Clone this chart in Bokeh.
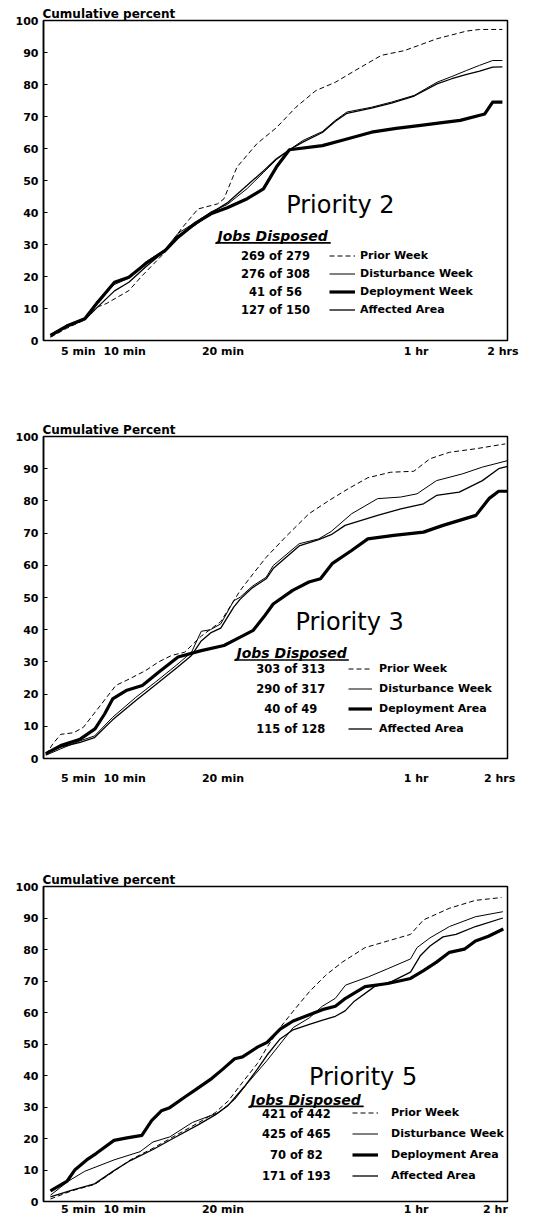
from bokeh.plotting import figure
from bokeh.models import Label, Legend, LegendItem, BoxAnnotation, FixedTicker, Range1d
from bokeh.layouts import column
from bokeh.embed import file_html
from bokeh.resources import INLINE

FONT = "DejaVu Sans"

# ---------------- shared axis data ----------------
Y_TICKS = [0, 10, 20, 30, 40, 50, 60, 70, 80, 90, 100]
# x axis: position along the (non-linear) elapsed-time axis, 0-100 % of its length
X_TICK_POS = [7.5, 17.5, 38.7, 80.3]
X_TICK_LABELS = ["5 min", "10 min", "20 min", "1 hr"]

# ---------------- Priority 2 ----------------
P2_PRIOR_X = [1.5, 5, 8.9, 11.7, 13.5, 18.4, 21.3, 26.2, 29.7, 33.3, 37.5, 38.9, 41.7, 46, 50.2, 54.4, 58.7, 62.9, 67.2, 72.8, 77.8, 84.8, 91.2, 94, 98.9]
P2_PRIOR_Y = [1.0, 3.8, 6.5, 10.5, 11.5, 15.6, 20.3, 27.6, 34.9, 41.1, 42.7, 44.3, 54.2, 61.5, 66.5, 72.9, 78.1, 80.7, 84.4, 89.1, 90.6, 94.3, 96.7, 97.2, 97.2]
P2_DIST_X = [1.5, 5, 8.9, 11.7, 15.3, 18.4, 22, 26.2, 29, 32.6, 36.1, 39.6, 43.9, 47.4, 50.2, 53, 55.9, 60.1, 62.9, 65.4, 70.7, 75, 79.9, 84.8, 88, 91.2, 94, 96.8, 98.9]
P2_DIST_Y = [1.8, 4.8, 6.9, 12.5, 17.5, 19.5, 24.5, 28.5, 33.5, 36.8, 40.2, 42.5, 47.5, 52.5, 56.5, 59.6, 62.5, 65.3, 68.8, 71.4, 72.9, 74.5, 76.6, 80.7, 82.5, 84.4, 86, 87.5, 87.5]
P2_DEPL_X = [1.5, 5, 8.9, 11.7, 15.3, 18.4, 22, 26.2, 29, 32.6, 36.1, 39.6, 43.9, 47.4, 50.2, 53, 60.1, 65, 70.7, 76, 81.3, 85.5, 89.8, 95.1, 96.8, 98.9]
P2_DEPL_Y = [1.6, 4.5, 6.8, 12, 18.2, 19.8, 24, 28.1, 32.3, 36.5, 39.6, 41.5, 44.3, 47.4, 54.2, 59.6, 60.9, 62.8, 65.1, 66.3, 67.2, 68, 68.8, 70.8, 74.5, 74.5]
P2_AFF_X = [1.5, 5, 8.9, 11.7, 15.3, 18.4, 22, 26.2, 29, 32.6, 36.1, 39.6, 43.9, 47.4, 50.2, 53, 55.9, 60.1, 62.9, 65.4, 70.7, 75, 79.9, 84.8, 88, 91.2, 94, 96.8, 98.9]
P2_AFF_Y = [1.2, 4.2, 6.5, 10.5, 15.5, 18.2, 23, 28, 32.8, 36, 39.8, 43, 48.5, 53, 56.8, 59.6, 62, 65, 68.5, 71, 72.6, 74.2, 76.4, 80.2, 81.8, 83.2, 84.2, 85.4, 85.5]
P2_NAMES = ["Prior Week", "Disturbance Week", "Deployment Week", "Affected Area"]
P2_COUNTS = ["269 of 279", "276 of 308", "41 of 56", "127 of 150"]

# ---------------- Priority 3 ----------------
P3_PRIOR_X = [0.5, 2, 3.7, 6.5, 8.6, 12, 15.6, 17.8, 22, 24.8, 27.6, 30.4, 34, 38.2, 42.4, 45.2, 48, 52.3, 57.2, 61.5, 65.7, 69.9, 74.8, 79.8, 83.3, 87.5, 93.2, 99.5]
P3_PRIOR_Y = [1.2, 4.5, 7.5, 8, 9.7, 16, 22.7, 24.2, 27.3, 30, 32, 33, 38, 42.5, 52.2, 57.4, 62.5, 69, 76, 80.1, 83.8, 87.2, 88.9, 89.2, 93.1, 95.1, 96.2, 97.7]
P3_DIST_X = [0.5, 3.7, 7.9, 11, 14.9, 19.9, 24.1, 29, 31.9, 34, 36, 38.2, 41, 42.4, 45, 48, 49.5, 55.1, 59.3, 62, 66.4, 72, 77, 80.5, 84.7, 90.3, 94.6, 100]
P3_DIST_Y = [1, 3, 5.5, 7, 12.8, 19, 23.7, 29.4, 33, 39.5, 40, 41.8, 49, 50.1, 53.5, 56.3, 59.9, 66.7, 68.2, 70.5, 76, 80.7, 81.2, 82.2, 86.3, 88.4, 90.5, 92.5]
P3_DEPL_X = [0.5, 3.7, 7.9, 11.1, 13.2, 14.9, 17.8, 21.3, 24.8, 29, 34, 38.9, 42.4, 45.2, 47.5, 49.5, 53.7, 57.2, 59.7, 62.2, 66.4, 69.9, 75.5, 81.9, 86.1, 93.2, 96, 98.1, 100]
P3_DEPL_Y = [1.5, 4, 6, 9.2, 13.9, 18.5, 21.1, 22.7, 26.8, 31.5, 33.5, 35.1, 37.7, 39.8, 44, 48, 52.2, 54.8, 55.8, 60.5, 64.6, 68.2, 69.3, 70.3, 72.4, 75.5, 80.7, 83, 83]
P3_AFF_X = [0.5, 3.7, 7.9, 11, 14.9, 19.9, 24.1, 29, 31.9, 34, 36, 38.2, 41, 42.4, 45, 48, 49.5, 55.1, 59.3, 62, 65, 72, 77, 81.9, 84.7, 89.6, 94.6, 98.1, 100]
P3_AFF_Y = [1.5, 3.5, 5, 6.5, 12, 18, 22.8, 28.5, 32, 36.5, 39, 40.5, 47, 49.5, 53, 55.8, 59, 66, 68, 69.5, 72.4, 75.5, 77.5, 79.1, 81.7, 82.7, 86.3, 90, 90.7]
P3_NAMES = ["Prior Week", "Disturbance Week", "Deployment Area", "Affected Area"]
P3_COUNTS = ["303 of 313", "290 of 317", "40 of 49", "115 of 128"]

# ---------------- Priority 5 ----------------
P5_PRIOR_X = [1.5, 6.1, 11, 15.2, 18.7, 23.6, 27.9, 33.5, 37, 39.8, 43.3, 46.1, 48.2, 51, 53.8, 57.3, 60.8, 64.4, 69.3, 74.2, 79.1, 81.9, 87.5, 93.1, 98.7]
P5_PRIOR_Y = [0.8, 3.4, 5.4, 9.6, 13.2, 16.9, 20.5, 25.1, 28.2, 31.9, 38.6, 43.8, 49, 55.2, 60.4, 66.6, 71.8, 76, 80.6, 82.7, 84.8, 89.4, 93.1, 95.6, 96.5]
P5_DIST_X = [1.5, 5.4, 8.9, 15.2, 20.8, 23.6, 27.2, 32.1, 37.7, 41.2, 44, 48.2, 51, 53.8, 57.3, 60.1, 62.9, 65.1, 70, 74.2, 79.1, 80.5, 83.3, 87.5, 93.1, 99]
P5_DIST_Y = [2, 6.5, 9.6, 13.2, 15.8, 18.9, 20.5, 25.1, 28.2, 32.4, 37.6, 44.8, 50, 55.2, 58.3, 62, 64.5, 68.7, 71.3, 73.9, 77, 80.6, 83.7, 87.3, 90.4, 92]
P5_DEPL_X = [1.5, 5.1, 6.8, 9.3, 11.4, 15.2, 18, 21.2, 23.3, 25.4, 27.2, 30.7, 32.8, 36.3, 38.4, 41.2, 42.9, 46.1, 48.2, 51, 53.8, 57.3, 60.1, 62.9, 65.1, 69.3, 74.2, 79.1, 81.9, 84.7, 87.5, 90.7, 93.1, 95.9, 99.1]
P5_DEPL_Y = [3.4, 6.5, 10.1, 13.2, 15.3, 19.4, 20.2, 21, 25.7, 28.8, 29.8, 33.4, 35.5, 39.1, 41.7, 45.3, 45.9, 49, 50.5, 54.7, 57.3, 59.3, 60.9, 62, 64.5, 68.2, 69.2, 70.8, 73.3, 76, 79.1, 80.1, 82.7, 84.2, 86.5]
P5_AFF_X = [1.5, 6, 11, 15.2, 18.7, 23.6, 27.9, 33.5, 37, 39.8, 43.3, 46.1, 48.2, 51, 53.8, 57.3, 60, 62.9, 65, 67, 71.4, 75, 79.1, 81.2, 83.3, 86.1, 88.9, 93.1, 99]
P5_AFF_Y = [1.5, 3.5, 5.6, 9.8, 13, 16.5, 20, 24.5, 27.5, 30.5, 36.5, 42, 46.5, 51.6, 54.5, 56.2, 57.5, 58.8, 60.5, 63.6, 68.3, 69.8, 72.8, 78, 81.1, 84, 84.8, 87.3, 90]
P5_NAMES = ["Prior Week", "Disturbance Week", "Deployment Area", "Affected Area"]
P5_COUNTS = ["421 of 442", "425 of 465", "70 of 82", "171 of 193"]

STYLES = [
    dict(line_width=1.0, line_dash="5 3"),
    dict(line_width=1.0),
    dict(line_width=3.2, line_join="round"),
    dict(line_width=1.3),
]


def build(cfg):
    fw, fh = cfg["fw"], cfg["fh"]
    p = figure(
        width=cfg["L"] + fw + cfg["R"], height=cfg["T"] + fh + cfg["B"],
        min_border_left=cfg["L"], min_border_right=cfg["R"],
        min_border_top=cfg["T"], min_border_bottom=cfg["B"],
        x_range=Range1d(0, 100), y_range=Range1d(0, 100),
        output_backend="svg", toolbar_location=None,
        title=cfg["ytitle"],
    )
    p.title.align = "left"
    p.title.offset = -1
    p.title.standoff = 0
    p.title.text_font = FONT
    p.title.text_font_style = "bold"
    p.title.text_font_size = "12px"
    p.title.text_color = "black"

    p.grid.visible = False
    p.outline_line_color = "black"
    p.outline_line_width = 1.5
    p.outline_line_alpha = 1.0
    p.background_fill_color = "white"
    p.border_fill_color = "white"

    ya = p.yaxis[0]
    ya.ticker = FixedTicker(ticks=Y_TICKS)
    ya.major_tick_in = 4
    ya.major_tick_out = 0
    ya.minor_tick_line_color = None
    ya.axis_line_width = 1.5
    ya.major_tick_line_width = 1.2
    ya.major_label_standoff = 5
    ya.major_label_text_font = FONT
    ya.major_label_text_font_style = "bold"
    ya.major_label_text_font_size = "11px"
    ya.major_label_text_color = "black"

    xa = p.xaxis[0]
    ticks = X_TICK_POS + [cfg["two_hr_pos"]]
    labels = X_TICK_LABELS + [cfg["two_hr_label"]]
    xa.ticker = FixedTicker(ticks=ticks)
    xa.major_label_overrides = {t: s for t, s in zip(ticks, labels)}
    xa.major_tick_in = 0
    xa.major_tick_out = 0
    xa.minor_tick_line_color = None
    xa.axis_line_color = None
    xa.major_label_standoff = cfg["x_standoff"]
    xa.major_label_text_font = FONT
    xa.major_label_text_font_style = "bold"
    xa.major_label_text_font_size = "11px"
    xa.major_label_text_color = "black"

    renderers = []
    for (xs, ys), st in zip(cfg["series"], STYLES):
        r = p.line(xs, ys, line_color="black", **st)
        renderers.append(r)

    # panel title
    tx, ty = cfg["title_pos"]
    p.add_layout(Label(x=tx, y=ty, text=cfg["title"], text_font=FONT, text_color="black",
                       text_font_size="24px", text_align="left", text_baseline="middle"))
    # "Jobs Disposed" heading with underline
    jx, jy, jx2, uy = cfg["jobs_pos"]
    p.add_layout(Label(x=jx, y=jy, text="Jobs Disposed", text_font=FONT, text_color="black",
                       text_font_style="bold italic", text_font_size="14px",
                       text_align="left", text_baseline="middle"))
    p.add_layout(BoxAnnotation(left=jx, right=jx2, bottom=uy - 0.25, top=uy + 0.25,
                               fill_color="black", fill_alpha=1.0, line_alpha=0))

    # legend geometry
    rh, sp = cfg["row_h"], cfg["spacing"]
    n = 4
    bottom_px = round(cfg["last_row_y"] * fh / 100 - rh / 2)
    legend = Legend(
        items=[LegendItem(label=nm, renderers=[r]) for nm, r in zip(cfg["names"], renderers)],
        location=(cfg["glyph_left"], bottom_px),
        orientation="vertical",
        glyph_width=cfg["glyph_w"], glyph_height=rh, label_height=rh,
        spacing=sp, padding=0, margin=0, label_standoff=cfg["label_standoff"],
        border_line_alpha=0, background_fill_alpha=0,
        label_text_font=FONT, label_text_font_style="bold",
        label_text_font_size="11px", label_text_color="black",
    )
    p.add_layout(legend)

    # counts, aligned on the legend rows
    for i, txt in enumerate(cfg["counts"]):
        c_px = bottom_px + (n - 1 - i) * (rh + sp) + rh / 2
        p.add_layout(Label(x=cfg["count_x"], y=c_px / fh * 100, text=txt, text_font=FONT,
                           text_color="black", text_font_style="bold", text_font_size="11.5px",
                           text_align="center", text_baseline="middle"))
    return p


cfg2 = dict(L=35, R=12, T=20, B=50, fw=472, fh=320, x_standoff=4,
            two_hr_pos=99.0, two_hr_label="2 hrs", ytitle="Cumulative percent",
            title="Priority 2", title_pos=(52.3, 42.5), jobs_pos=(37.5, 32.7, 61.9, 30.5),
            row_h=15, spacing=3, last_row_y=9.6, glyph_left=286, glyph_w=26, label_standoff=5,
            count_x=50.0, names=P2_NAMES, counts=P2_COUNTS,
            series=[(P2_PRIOR_X, P2_PRIOR_Y), (P2_DIST_X, P2_DIST_Y),
                    (P2_DEPL_X, P2_DEPL_Y), (P2_AFF_X, P2_AFF_Y)])

cfg3 = dict(L=38, R=8, T=46, B=50, fw=473, fh=322, x_standoff=13,
            two_hr_pos=98.3, two_hr_label="2 hrs", ytitle="Cumulative Percent",
            title="Priority 3", title_pos=(54.3, 42.5), jobs_pos=(41.6, 32.8, 65.8, 30.6),
            row_h=17, spacing=3, last_row_y=9.2, glyph_left=305, glyph_w=24, label_standoff=7,
            count_x=53.3, names=P3_NAMES, counts=P3_COUNTS,
            series=[(P3_PRIOR_X, P3_PRIOR_Y), (P3_DIST_X, P3_DIST_Y),
                    (P3_DEPL_X, P3_DEPL_Y), (P3_AFF_X, P3_AFF_Y)])

cfg5 = dict(L=43, R=1, T=78, B=15, fw=475, fh=317, x_standoff=1,
            two_hr_pos=97.4, two_hr_label="2 hr", ytitle="Cumulative percent",
            title="Priority 5", title_pos=(57.2, 39.4), jobs_pos=(44.6, 32.2, 69.0, 30.2),
            row_h=17, spacing=4, last_row_y=8.2, glyph_left=309, glyph_w=26, label_standoff=13,
            count_x=54.5, names=P5_NAMES, counts=P5_COUNTS,
            series=[(P5_PRIOR_X, P5_PRIOR_Y), (P5_DIST_X, P5_DIST_Y),
                    (P5_DEPL_X, P5_DEPL_Y), (P5_AFF_X, P5_AFF_Y)])

layout = column(build(cfg2), build(cfg3), build(cfg5), spacing=0)

open("out.html", "w").write(file_html(layout, INLINE))
